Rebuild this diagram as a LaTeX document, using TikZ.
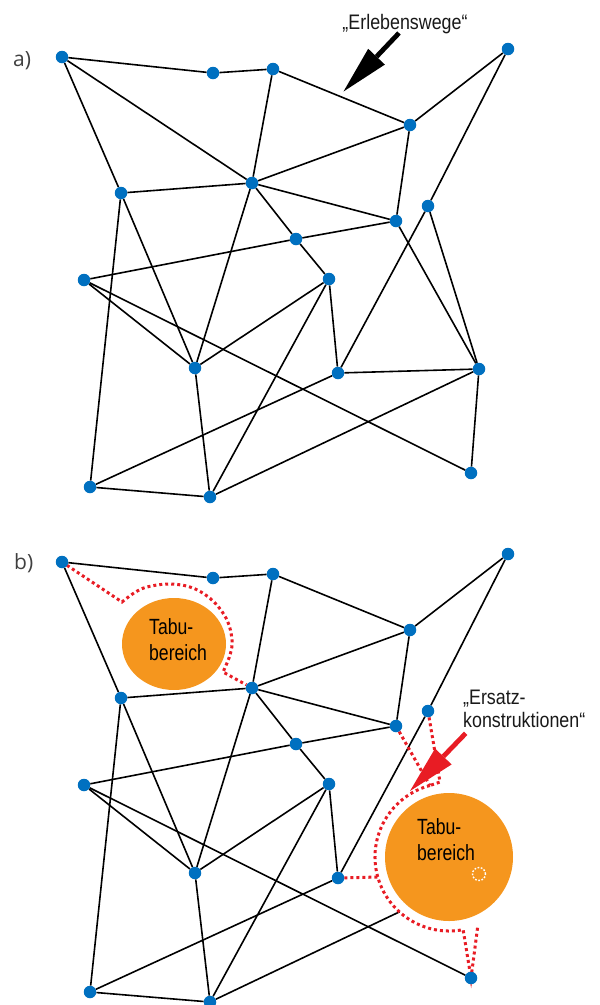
\documentclass[tikz,border=0pt]{standalone}
\usepackage{fontspec}
\setmainfont{Liberation Sans}
\newfontfamily\lblfont[FakeStretch=0.85]{Liberation Sans}
\newfontfamily\tabufont[FakeStretch=0.8]{Liberation Sans}
\newfontfamily\panelfont{Open Sans}
\usetikzlibrary{arrows.meta,calc,shapes.geometric}
\definecolor{nodeblue}{RGB}{0,112,192}
\definecolor{tabuorange}{RGB}{245,150,30}
\definecolor{ersatzred}{RGB}{232,28,36}
\pgfdeclarelayer{bg}
\pgfdeclarelayer{mid}
\pgfsetlayers{bg,mid,main}
\tikzset{
  vertex/.style={circle, fill=nodeblue, draw=none, inner sep=0pt, minimum size=12.5pt},
  edge/.style={line width=1.6pt, black},
  reddot/.style={draw=ersatzred, line width=3pt, dash pattern=on 3pt off 3pt},
  tabu/.style={fill=tabuorange, draw=none, inner sep=0pt},
  bigarrow/.style={line width=4.8pt, -{Triangle[length=48pt,width=23pt,line width=0pt]}},
  lbl/.style={font=\lblfont\fontsize{21}{23}\selectfont, inner sep=0pt, text=black!90},
  tabutext/.style={font=\tabufont\fontsize{22}{26.7}\selectfont, align=left, inner sep=0pt},
  panel/.style={font=\panelfont\fontsize{21}{24}\selectfont, text=black!75, inner sep=0pt}
}
\begin{document}
\begin{tikzpicture}[x=1pt,y=-1pt]
\useasboundingbox (0,0) rectangle (600,1005);

% ---------- panel a: vertices ----------
\foreach \n/\x/\y in {1/62/57, 2/213/73, 3/273/69, 4/252/183, 5/121/193, 6/296/239,
  7/508/49, 8/410/125, 9/396/221, 10/428/206, 11/84/280, 12/195/368, 13/90/487,
  14/210/497, 15/329/279, 16/338/373, 17/479/369, 18/471/473}{
  \node[vertex] (a\n) at (\x,\y) {};
}
% ---------- panel b: vertices (node 17 removed) ----------
\foreach \n/\x/\y in {1/62/57, 2/213/73, 3/273/69, 4/252/183, 5/121/193, 6/296/239,
  7/508/49, 8/410/125, 9/396/221, 10/428/206, 11/84/280, 12/195/368, 13/90/487,
  14/210/497, 15/329/279, 16/338/373, 18/471/473}{
  \node[vertex] (b\n) at (\x,\y+505) {};
}

% ---------- labels ----------
\node[panel, anchor=base west] (labela) at (13,66) {a)};
\node[panel, anchor=base west] (labelb) at (14,569) {b)};
\node[lbl, anchor=base] (erleb) at (405,29.5) {„Erlebenswege“};
\node[lbl, align=left, anchor=north west] (ersatz) at (463,689.5) {„Ersatz-\\konstruktionen“};

% ---------- arrows ----------
\coordinate (ebTail) at (399,33);
\coordinate (ebTip) at (343.5,91.5);
\draw[bigarrow, black] (ebTail) -- (ebTip);
\coordinate (raTail) at (465.7,733.3);
\coordinate (raTip) at (410,791);
\draw[bigarrow, ersatzred] (raTail) -- (raTip);

% ---------- taboo areas and substitute routes ----------
\begin{pgfonlayer}{mid}
  \node[tabu, ellipse, minimum width=104pt, minimum height=92pt] (tabu1) at (174,644) {};
  \node[tabutext, anchor=west] (tabu1text) at (149,639.5) {Tabu-\\bereich};
  \node[tabu, circle, minimum size=128pt] (tabu2) at (449,857) {};
  \node[tabutext, anchor=west] (tabu2text) at (417,839.5) {Tabu-\\bereich};
  \node[circle, draw=white, line width=1.4pt, dash pattern=on 1.7pt off 1.6pt,
        minimum size=13pt, inner sep=0pt] (b17) at (479,874) {};

  % route around taboo area 1
  \draw[reddot] (b1) -- plot[smooth, tension=0.6] coordinates {(122,602) (134,593) (147,587)
     (170,584) (193,588) (213,601) (227,620) (232,640) (230,655) (223,672)} -- (b4);

  % route around taboo area 2
  \coordinate (c2) at (449,857);
  \coordinate (arcS) at ($(c2)+(-105:74)$);
  \draw[reddot] (arcS) arc[start angle=-105, end angle=-281, radius=74]
     -- (b18.center) -- ($(c2)+(-293:74)$);
  \draw[reddot] (b9) -- (arcS);
  \draw[reddot] (b10) -- (440,782) -- (arcS);
  \draw[reddot] (b16) -- ($(c2)+(-195.7:74)$);
\end{pgfonlayer}

% ---------- edges ----------
\begin{pgfonlayer}{bg}
  \foreach \u/\v in {1/2,2/3,1/4,1/5,3/4,3/8,4/5,4/8,4/9,4/6,4/12,7/8,7/10,8/9,6/9,
     11/6,6/15,15/12,15/16,15/14,5/12,5/13,11/12,11/18,12/14,13/14,13/16,14/17,16/17,
     17/18,10/17,9/17,10/16}{
    \draw[edge] (a\u) -- (a\v);
  }
  \foreach \u/\v in {1/2,2/3,1/5,3/4,3/8,4/5,4/8,4/9,4/6,4/12,7/8,7/10,8/9,6/9,
     11/6,6/15,15/12,15/16,15/14,5/12,5/13,11/12,11/18,12/14,13/14,13/16,10/16}{
    \draw[edge] (b\u) -- (b\v);
  }
  \draw[edge] (b14) -- ($(b14)!0.705!(b17)$);
\end{pgfonlayer}
\end{tikzpicture}
\end{document}
